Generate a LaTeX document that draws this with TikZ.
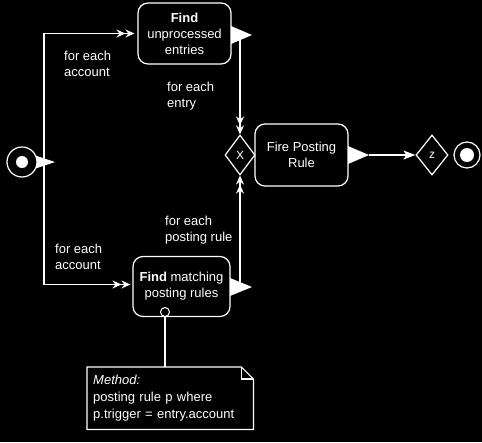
\documentclass[tikz,border=0pt]{standalone}
\usepackage{fontspec}
\setmainfont{Liberation Sans}
\usetikzlibrary{shapes.geometric,arrows.meta,calc}
\begin{document}
\begin{tikzpicture}[x=1pt,y=-1pt,
 ln/.style={draw=white, line width=1.2pt},
 act/.style={draw=white, line width=1.2pt, fill=black, rounded corners=10pt, text=white, align=center, font=\fontsize{13}{16}\selectfont, inner sep=0pt},
 lbl/.style={text=white, align=left, font=\fontsize{13}{16}\selectfont, inner sep=0pt, anchor=north west},
 dbl/.style={ln, -{Stealth[length=9pt,width=8pt,inset=3pt]Stealth[length=9pt,width=8pt,inset=3pt]}},
 sgl/.style={ln, -{Stealth[length=12pt,width=9pt,inset=3pt]}},
 dia/.style={diamond, draw=white, line width=1.2pt, fill=black, minimum width=30pt, minimum height=40pt, inner sep=0pt, text=white, font=\fontsize{12}{12}\selectfont},
 pintri/.style={fill=white},
 dot/.style={circle, draw=white, fill=black, line width=1.2pt, inner sep=0pt}
]
\fill[black] (0,0) rectangle (482,442);
\useasboundingbox (0,0) rectangle (482,442);

% activities
\node[act, minimum width=93pt, minimum height=61pt] (A) at (184.5,33.5) {\textbf{Find}\\unprocessed\\entries};
\node[act, minimum width=97pt, minimum height=60pt] (C) at (181.5,286.5) {\textbf{Find} matching\\posting rules};
\node[act, minimum width=93pt, minimum height=62pt] (F) at (301.5,155) {Fire Posting\\Rule};

% output pins
\fill[pintri] (231,26) -- (252,35) -- (231,44) -- cycle;
\fill[pintri] (348,146) -- (369,155) -- (348,164) -- cycle;
\fill[pintri] (230,278) -- (252,287) -- (230,296) -- cycle;
\coordinate (pA) at (240,40);
\coordinate (pF) at (369,155);
\coordinate (pC) at (240,282);

% start
\fill[pintri] (28,153) -- (55,162) -- (28,171) -- cycle;
\node[dot, minimum size=30pt] (S) at (22,162) {};
\fill[white] (S.center) circle (6pt);
\coordinate (fk) at (44,162);

% diamonds and end
\node[dia] (X) at (240,155) {X};
\node[dia, minimum width=32pt] (Z) at (432,155) {z};
\node[dot, minimum size=26pt] (E) at (467,155) {};
\fill[white] (E.center) circle (7pt);

% connectors
\draw[ln] (fk |- 0,33) -- (fk |- 0,285);
\draw[dbl, shorten >=3pt] (fk) |- (A.west);
\draw[dbl, shorten >=2pt] (fk) |- ([yshift=2pt]C.west);
\draw[dbl] (pA) -- (X.north);
\draw[dbl] (pC) -- (X.south);
\draw[sgl] (pF) -- (Z.west);

% labels
\node[lbl] (l1) at (64,51) {for each\\account};
\node[lbl] (l2) at (167,82) {for each\\entry};
\node[lbl] (l3) at (165,216) {for each\\posting rule};
\node[lbl] (l4) at (55,244) {for each\\account};

% note
\node[dot, line width=1pt, minimum size=9pt] (par) at (165,312) {};
\node[anchor=north west, text=white, align=left, text width=154pt, inner xsep=6pt, inner ysep=0pt, minimum height=62pt, font=\fontsize{13}{17}\selectfont] (N) at (87,367) {\textit{Method:}\\posting rule p where\\p.trigger = entry.account};
\draw[ln] (par.south) -- (par.south |- N.north);
\draw[ln] (N.north west) -- ([xshift=-12pt]N.north east) -- ([yshift=-12pt]N.north east) -- (N.south east) -- (N.south west) -- cycle;
\draw[ln] ([xshift=-12pt]N.north east) -- ([xshift=-12pt,yshift=-12pt]N.north east) -- ([yshift=-12pt]N.north east);
\end{tikzpicture}
\end{document}
